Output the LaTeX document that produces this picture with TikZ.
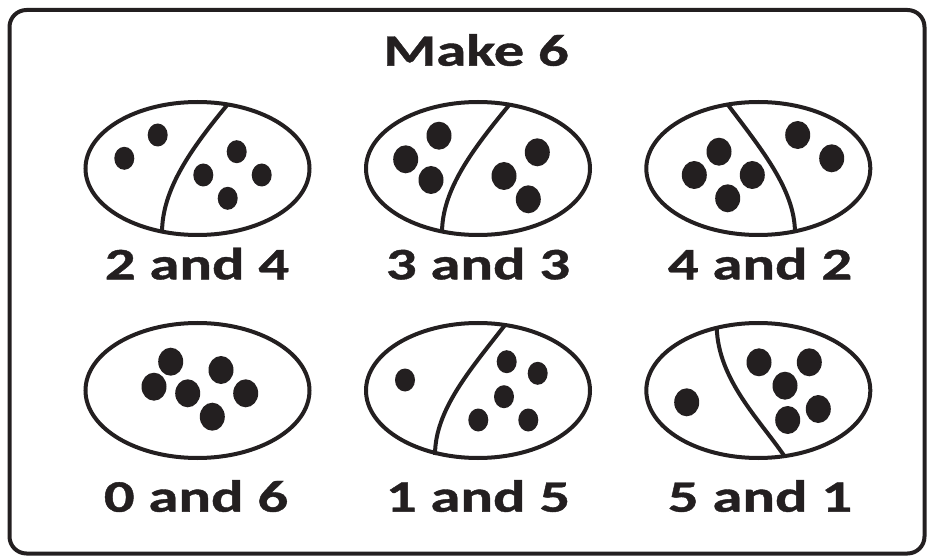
\documentclass[tikz,border=0pt]{standalone}
\usepackage{fontspec}
\setmainfont{Carlito}[FakeStretch=1.35,BoldFeatures={FakeBold=0.9}]
\definecolor{ink}{HTML}{231F20}
\begin{document}
\begin{tikzpicture}[x=1pt,y=-1pt,
  oval/.style={draw=ink,line width=4pt},
  divider/.style={draw=ink,line width=4pt},
  lbl/.style={text=ink,font=\fontsize{45}{54}\selectfont\bfseries,anchor=base,inner sep=0pt}]
\useasboundingbox (0,0) rectangle (927,556);
\draw[draw=ink,line width=4pt,rounded corners=17pt] (9.5,10) rectangle (924.5,553.5);
\node[lbl] (title) at (476,65.7) {Make 6};
% oval 1: 2 and 4
\draw[oval] (197.5,168.5) ellipse [x radius=112,y radius=66.5];
\draw[divider] (228,104) .. controls (190,150) and (162,190) .. (162,233);
\fill[ink] (124.3,158.3) ellipse [x radius=10,y radius=11.5];
\fill[ink] (157.7,135) ellipse [x radius=10,y radius=11.5];
\fill[ink] (236.7,151.7) ellipse [x radius=10,y radius=11.5];
\fill[ink] (203.3,175) ellipse [x radius=10,y radius=11.5];
\fill[ink] (261.7,175) ellipse [x radius=10,y radius=11.5];
\fill[ink] (227.7,198.3) ellipse [x radius=10,y radius=11.5];
\node[lbl] (l1) at (197,279.3) {2 and 4};
% oval 2: 3 and 3
\draw[oval] (478,168.5) ellipse [x radius=112,y radius=66.5];
\draw[divider] (510,104) .. controls (472,150) and (442,190) .. (442,233);
\fill[ink] (439,135.7) ellipse [x radius=12.5,y radius=14];
\fill[ink] (405.7,159.3) ellipse [x radius=12.5,y radius=14];
\fill[ink] (431,180) ellipse [x radius=12.5,y radius=14];
\fill[ink] (537.3,152.3) ellipse [x radius=12.5,y radius=14];
\fill[ink] (504,176) ellipse [x radius=12.5,y radius=14];
\fill[ink] (528.3,199.3) ellipse [x radius=12.5,y radius=14];
\node[lbl] (l2) at (478,279.3) {3 and 3};
% oval 3: 4 and 2
\draw[oval] (758.3,168.5) ellipse [x radius=112,y radius=66.5];
\draw[divider] (727.3,104) .. controls (762,150) and (795,190) .. (795,233);
\fill[ink] (719,151.7) ellipse [x radius=12.5,y radius=14];
\fill[ink] (694.3,175) ellipse [x radius=12.5,y radius=14];
\fill[ink] (752.3,175) ellipse [x radius=12.5,y radius=14];
\fill[ink] (727.7,198.3) ellipse [x radius=12.5,y radius=14];
\fill[ink] (797.7,135) ellipse [x radius=12.5,y radius=14];
\fill[ink] (831.7,158.3) ellipse [x radius=12.5,y radius=14];
\node[lbl] (l3) at (760,279.3) {4 and 2};
% oval 4: 0 and 6
\draw[oval] (197.5,390.5) ellipse [x radius=112,y radius=67.5];
\fill[ink] (170.7,361.7) ellipse [x radius=12.5,y radius=14];
\fill[ink] (154,386.7) ellipse [x radius=12.5,y radius=14];
\fill[ink] (187.7,393.3) ellipse [x radius=12.5,y radius=14];
\fill[ink] (221,370) ellipse [x radius=12.5,y radius=14];
\fill[ink] (245.7,393.3) ellipse [x radius=12.5,y radius=14];
\fill[ink] (212.3,416.7) ellipse [x radius=12.5,y radius=14];
\node[lbl] (l4) at (196,511.7) {0 and 6};
% oval 5: 1 and 5
\draw[oval] (478,390.5) ellipse [x radius=112,y radius=67.5];
\draw[divider] (505,325) .. controls (470,370) and (435,410) .. (435,455);
\fill[ink] (405,380) ellipse [x radius=10,y radius=11.5];
\fill[ink] (506.7,361.7) ellipse [x radius=10,y radius=11.5];
\fill[ink] (537.7,373.3) ellipse [x radius=10,y radius=11.5];
\fill[ink] (504,396.7) ellipse [x radius=10,y radius=11.5];
\fill[ink] (478.3,420) ellipse [x radius=10,y radius=11.5];
\fill[ink] (528.3,420) ellipse [x radius=10,y radius=11.5];
\node[lbl] (l5) at (478,511.7) {1 and 5};
% oval 6: 5 and 1
\draw[oval] (758.3,390.5) ellipse [x radius=112,y radius=67.5];
\draw[divider] (716.7,327) .. controls (718,380) and (760,420) .. (785,457);
\fill[ink] (686.7,402.3) ellipse [x radius=12.5,y radius=14];
\fill[ink] (759,362.3) ellipse [x radius=12.5,y radius=14];
\fill[ink] (809.3,362.3) ellipse [x radius=12.5,y radius=14];
\fill[ink] (785,385.7) ellipse [x radius=12.5,y radius=14];
\fill[ink] (818.3,409) ellipse [x radius=12.5,y radius=14];
\fill[ink] (787.7,420) ellipse [x radius=12.5,y radius=14];
\node[lbl] (l6) at (760,511.7) {5 and 1};
\end{tikzpicture}
\end{document}
